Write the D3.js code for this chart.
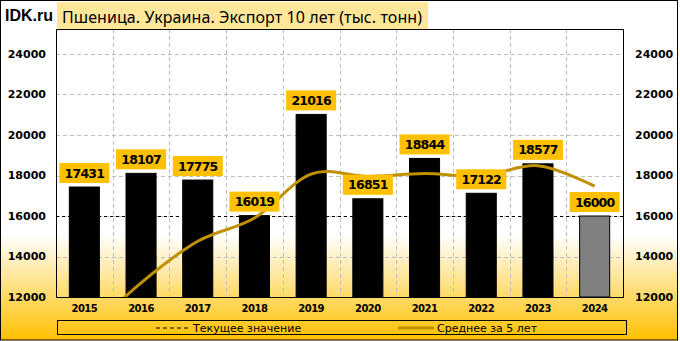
<!DOCTYPE html>
<html>
<head>
<meta charset="utf-8">
<script src="https://cdn.jsdelivr.net/npm/d3@7"></script>
<style>
  body { margin: 0; background: #fff; }
  svg { display: block; }
</style>
</head>
<body>
<svg width="680" height="341"></svg>
<script>
// data
const years = ["2015", "2016", "2017", "2018", "2019", "2020", "2021", "2022", "2023", "2024"];
const exportValues = [17431, 18107, 17775, 16019, 21016, 16851, 18844, 17122, 18577, 16000];
// 5-year average (first years estimated, partly below axis)
const avg5 = [10100, 12700, 14750, 15900, 18070, 17954, 18101, 17970, 18482, 17479];
const currentValue = 16000;
const yTicks = [12000, 14000, 16000, 18000, 20000, 22000, 24000];

const chart = () => {
    const W = 680, H = 341;
    const plot = { left: 56, right: 623, top: 29, bottom: 297 };

    const svg = d3.select("svg");

    // background gradient
    const defs = svg.append("defs");
    const grad = defs.append("linearGradient")
        .attr("id", "bg").attr("x1", 0).attr("y1", 0).attr("x2", 0).attr("y2", 1);
    grad.append("stop").attr("offset", 0.69).attr("stop-color", "#ffffff");
    grad.append("stop").attr("offset", 1).attr("stop-color", "#ffc000");

    defs.append("clipPath").attr("id", "clip")
      .append("rect")
        .attr("x", plot.left).attr("y", plot.top)
        .attr("width", plot.right - plot.left).attr("height", plot.bottom - plot.top);

    svg.append("rect")
        .attr("x", 0.5).attr("y", 0.5)
        .attr("width", W - 3).attr("height", H - 1.5)
        .attr("fill", "url(#bg)")
        .attr("stroke", "#000");

    // scales
    const x = d3.scaleBand()
        .domain(years)
        .range([plot.left, plot.right])
        .paddingInner(0.47)
        .paddingOuter(0.235);

    const y = d3.scaleLinear()
        .domain([12000, 24000])
        .range([plot.bottom, 54]);

    const step = x.step();
    const cx = d => x(d) + x.bandwidth() / 2;

    // grid
    svg.append("g")
        .attr("stroke", "#bfbfbf")
        .attr("stroke-dasharray", "4,3")
      .selectAll("line")
      .data(yTicks.slice(1))
      .join("line")
        .attr("x1", plot.left).attr("x2", plot.right)
        .attr("y1", d => Math.round(y(d)) + 0.5).attr("y2", d => Math.round(y(d)) + 0.5);

    svg.append("g")
        .attr("stroke", "#bfbfbf")
        .attr("stroke-dasharray", "4,3")
      .selectAll("line")
      .data(years.slice(1))
      .join("line")
        .attr("x1", d => Math.round(x(d) - (step - x.bandwidth()) / 2) + 0.5)
        .attr("x2", d => Math.round(x(d) - (step - x.bandwidth()) / 2) + 0.5)
        .attr("y1", plot.top).attr("y2", plot.bottom);

    // current value line
    svg.append("line")
        .attr("x1", plot.left).attr("x2", plot.right)
        .attr("y1", Math.round(y(currentValue)) + 0.5).attr("y2", Math.round(y(currentValue)) + 0.5)
        .attr("stroke", "#000")
        .attr("stroke-dasharray", "3,3");

    // bars
    svg.append("g")
      .selectAll("rect")
      .data(years)
      .join("rect")
        .attr("x", d => x(d))
        .attr("y", (d, i) => y(exportValues[i]))
        .attr("width", x.bandwidth())
        .attr("height", (d, i) => y(12000) - y(exportValues[i]))
        .attr("fill", (d, i) => i === years.length - 1 ? "#808080" : "#000")
        .attr("stroke", "#000")
        .attr("stroke-width", 1);

    // 5 year average line
    const line = d3.line()
        .x((d, i) => cx(years[i]))
        .y(d => y(d))
        .curve(d3.curveCatmullRom.alpha(0));

    svg.append("path")
        .attr("clip-path", "url(#clip)")
        .attr("d", line(avg5))
        .attr("fill", "none")
        .attr("stroke", "#bf9000")
        .attr("stroke-width", 3);

    // plot border
    svg.append("rect")
        .attr("x", plot.left + 0.5).attr("y", plot.top + 0.5)
        .attr("width", plot.right - plot.left).attr("height", plot.bottom - plot.top)
        .attr("fill", "none")
        .attr("stroke", "#000");

    // value labels
    const lab = svg.append("g")
      .selectAll("g")
      .data(years)
      .join("g")
        .attr("transform", (d, i) => `translate(${cx(d)},${y(exportValues[i]) - 4})`);

    lab.append("rect")
        .attr("x", -25).attr("y", -20)
        .attr("width", 50).attr("height", 20)
        .attr("fill", "#ffc000");

    lab.append("text")
        .attr("y", -5.5)
        .attr("text-anchor", "middle")
        .style("font", "bold 12.5px 'DejaVu Sans'")
        .style("letter-spacing", "-0.8px")
        .attr("fill", "#000")
        .text((d, i) => exportValues[i]);

    // axes
    const yAxisL = svg.append("g")
        .style("font", "bold 11px 'DejaVu Sans'")
      .selectAll("text")
      .data(yTicks)
      .join("text")
        .attr("x", 46)
        .attr("y", d => y(d))
        .attr("dy", "0.36em")
        .attr("text-anchor", "end")
        .text(d => d);

    svg.append("g")
        .style("font", "bold 11px 'DejaVu Sans'")
      .selectAll("text")
      .data(yTicks)
      .join("text")
        .attr("x", 635)
        .attr("y", d => y(d))
        .attr("dy", "0.36em")
        .text(d => d);

    svg.append("g")
        .style("font", "bold 10px 'DejaVu Sans'")
        .style("letter-spacing", "-0.5px")
      .selectAll("text")
      .data(years)
      .join("text")
        .attr("x", d => cx(d))
        .attr("y", 312)
        .attr("text-anchor", "middle")
        .text(d => d);

    // title
    svg.append("rect")
        .attr("x", 57).attr("y", 2)
        .attr("width", 371).attr("height", 27)
        .attr("fill", "#ffe699");

    svg.append("text")
        .attr("x", 62).attr("y", 23)
        .style("font", "16px 'Noto Sans'")
        .attr("textLength", 360)
        .text("Пшеница. Украина. Экспорт 10 лет (тыс. тонн)");

    svg.append("text")
        .attr("x", 5).attr("y", 21)
        .style("font", "bold 16px 'Liberation Sans'")
        .text("IDK.ru");

    // legend
    svg.append("rect")
        .attr("x", 57.5).attr("y", 320.5)
        .attr("width", 569).attr("height", 14)
        .attr("fill", "none")
        .attr("stroke", "#000");

    svg.append("line")
        .attr("x1", 156).attr("x2", 188)
        .attr("y1", 328).attr("y2", 328)
        .attr("stroke", "#000")
        .attr("stroke-dasharray", "4,3");

    svg.append("text")
        .attr("x", 193).attr("y", 332)
        .style("font", "11px 'DejaVu Sans'")
        .text("Текущее значение");

    svg.append("line")
        .attr("x1", 398).attr("x2", 434)
        .attr("y1", 328).attr("y2", 328)
        .attr("stroke", "#bf9000")
        .attr("stroke-width", 3);

    svg.append("text")
        .attr("x", 437).attr("y", 332)
        .style("font", "11px 'DejaVu Sans'")
        .text("Среднее за 5 лет");
};

chart();
</script>
</body>
</html>
